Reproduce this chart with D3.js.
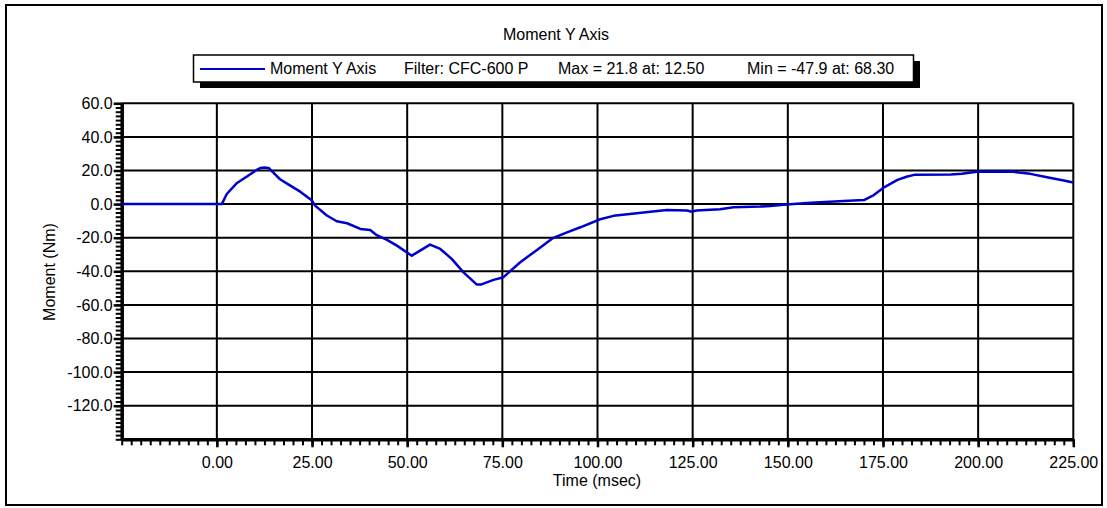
<!DOCTYPE html>
<html><head><meta charset="utf-8">
<script src="https://cdn.jsdelivr.net/npm/d3@7"></script>
<style>
html,body{margin:0;padding:0;background:#fff;}
svg{display:block;font-family:"Liberation Sans",Arial,sans-serif;}
</style></head>
<body>
<svg id="chart" width="1107" height="508"></svg>
<script>
const timeMs = [-25, 1.3, 2.6, 5.3, 7.9, 10.5, 11.4, 12.5, 13.6, 16.6, 19.3, 21.9, 25, 25.8, 28.9, 31.5, 34.2, 37.7, 40.3, 42.0, 44.7, 47.3, 51.2, 53.4, 56.0, 58.7, 61.7, 64.8, 68.3, 69.5, 72.7, 75.3, 79.7, 84.1, 88.4, 92.0, 95.5, 100.7, 104.2, 112.1, 118.2, 123.5, 124.8, 126.0, 132.2, 135.7, 142.7, 145.4, 148.9, 156.0, 164.7, 170.0, 172.6, 175.3, 178.8, 181.4, 183.2, 192.8, 195.7, 199.7, 209.3, 213.7, 218.1, 222.5, 225];
const momentNm = [0, 0, 6, 12.6, 16.4, 20.4, 21.5, 21.8, 21.5, 14.8, 11, 7.4, 2.1, -0.9, -6.8, -10.2, -11.4, -14.8, -15.4, -18.5, -21.3, -24.7, -30.7, -27.7, -24.1, -26.7, -32.6, -40.6, -47.9, -47.8, -45.1, -43.5, -34.6, -27.3, -20.1, -16.8, -13.8, -9.0, -7.0, -5.0, -3.5, -3.8, -4.5, -3.8, -3.0, -1.9, -1.5, -1.2, -0.4, 0.8, 1.8, 2.4, 5.4, 10, 14.4, 16.4, 17.4, 17.6, 18, 19.2, 19.2, 18, 16, 14, 12.8];
const xTicks = [0, 25, 50, 75, 100, 125, 150, 175, 200, 225];
const yTicks = [60, 40, 20, 0, -20, -40, -60, -80, -100, -120];
const titleText = "Moment Y Axis";
const legendItems = ["Moment Y Axis", "Filter: CFC-600 P", "Max = 21.8 at: 12.50", "Min = -47.9 at: 68.30"];
const xLabel = "Time (msec)";
const yLabel = "Moment (Nm)";

const svg = d3.select("#chart");
const L = 121.7, R = 1073.3, T = 103.3, B = 439.3;
const FS = 16;
const x = d3.scaleLinear().domain([-25, 225]).range([L, R]);
const y = d3.scaleLinear().domain([-140, 60]).range([B, T]);
const fmtX = d => d3.format(".2f")(d).replace("\u2212", "-");
const fmtY = d => d3.format(".1f")(d).replace("\u2212", "-");

// outer frame
svg.append("rect").attr("x", 6).attr("y", 5).attr("width", 1096).attr("height", 500)
  .attr("fill", "#fff").attr("stroke", "#000").attr("stroke-width", 2);

// title
svg.append("text").attr("x", 556).attr("y", 40).attr("text-anchor", "middle")
  .attr("font-size", FS).text(titleText);

// legend
svg.append("rect").attr("x", 200).attr("y", 61).attr("width", 720).attr("height", 27).attr("fill", "#000");
svg.append("rect").attr("x", 193.5).attr("y", 55).attr("width", 720).attr("height", 27)
  .attr("fill", "#fff").attr("stroke", "#000").attr("stroke-width", 1.5);
svg.append("line").attr("x1", 200).attr("x2", 265).attr("y1", 69).attr("y2", 69)
  .attr("stroke", "#0000cc").attr("stroke-width", 2);
const legX = [270, 404, 558, 747];
legendItems.forEach((t, i) => {
  svg.append("text").attr("x", legX[i]).attr("y", 74).attr("font-size", FS).text(t);
});

// gridlines
const grid = svg.append("g");
grid.selectAll(".vg").data(xTicks).join("line")
  .attr("x1", d => x(d)).attr("x2", d => x(d)).attr("y1", T).attr("y2", B)
  .attr("stroke", "#000").attr("stroke-width", 2);
grid.selectAll(".hg").data(yTicks).join("line")
  .attr("x1", L).attr("x2", R).attr("y1", d => y(d)).attr("y2", d => y(d))
  .attr("stroke", "#000").attr("stroke-width", 2);

// minor ticks
const xMinor = d3.range(-25, 225.01, 2.5);
const yMinor = d3.range(-140, 60.01, 2.5);
svg.append("g").attr("transform", `translate(0,${B})`)
  .call(d3.axisBottom(x).tickValues(xMinor).tickSize(6).tickFormat(""))
  .call(g => g.select(".domain").remove())
  .call(g => g.selectAll("line").attr("stroke-width", 2));
svg.append("g").attr("transform", `translate(${L},0)`)
  .call(d3.axisLeft(y).tickValues(yMinor).tickSize(6).tickFormat(""))
  .call(g => g.select(".domain").remove())
  .call(g => g.selectAll("line").attr("stroke-width", 2));

// major axes
const xAxis = svg.append("g").attr("transform", `translate(0,${B})`)
  .call(d3.axisBottom(x).tickValues(xTicks).tickSize(8).tickSizeOuter(0).tickPadding(9).tickFormat(fmtX));
xAxis.select(".domain").attr("stroke-width", 3.5);
xAxis.selectAll("line").attr("stroke-width", 2.5);
xAxis.selectAll("text").attr("font-size", FS).attr("fill", "#000").attr("font-family", "Liberation Sans, Arial, sans-serif");

const yAxis = svg.append("g").attr("transform", `translate(${L},0)`)
  .call(d3.axisLeft(y).tickValues(yTicks).tickSize(8).tickSizeOuter(0).tickPadding(1).tickFormat(fmtY));
yAxis.select(".domain").attr("stroke-width", 3.5);
yAxis.selectAll("line").attr("stroke-width", 2.5);
yAxis.selectAll("text").attr("font-size", FS).attr("fill", "#000").attr("font-family", "Liberation Sans, Arial, sans-serif");

// axis labels
svg.append("text").attr("x", 597).attr("y", 486).attr("text-anchor", "middle").attr("font-size", FS).text(xLabel);
svg.append("text").attr("transform", "translate(55,272) rotate(-90)").attr("text-anchor", "middle")
  .attr("font-size", FS).text(yLabel);

// data line
const line = d3.line().x((d, i) => x(timeMs[i])).y(d => y(d));
svg.append("path").datum(momentNm).attr("d", line)
  .attr("fill", "none").attr("stroke", "#0000cc").attr("stroke-width", 2.5).attr("stroke-linejoin", "round");
</script>
</body></html>
